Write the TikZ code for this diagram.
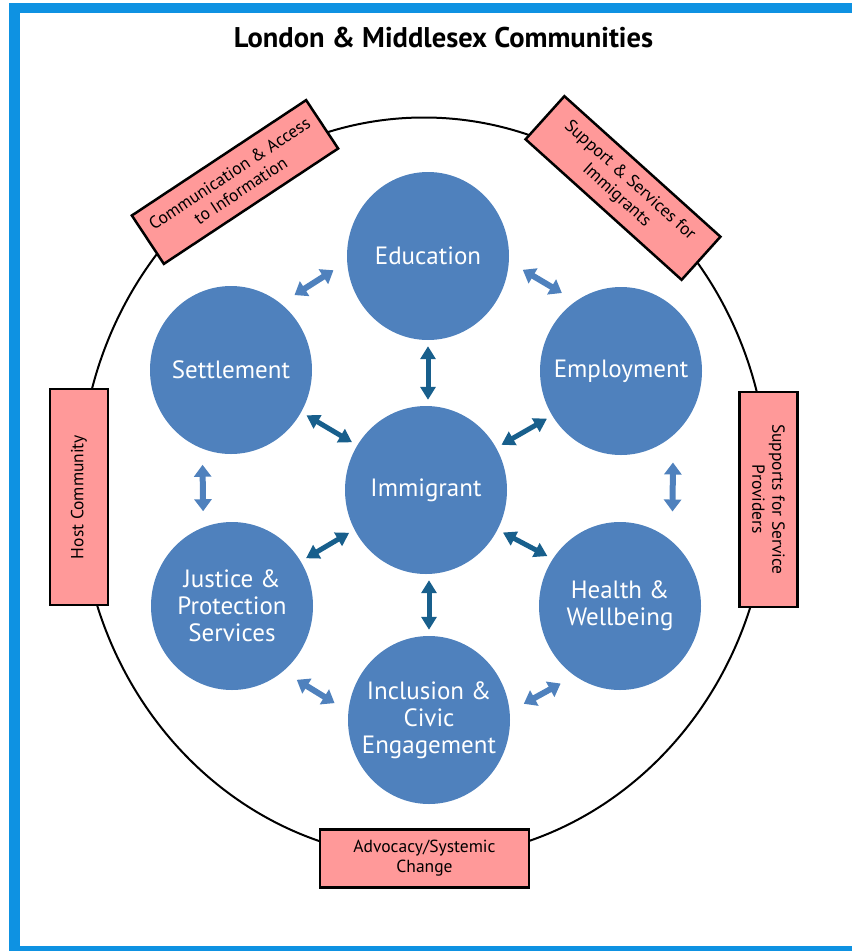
\documentclass[tikz,border=0pt]{standalone}
\usepackage{fontspec}
\setmainfont{PT Sans}
\usepackage{xcolor}
\usetikzlibrary{shapes.geometric,arrows.meta}

\definecolor{circblue}{RGB}{79,129,189}
\definecolor{arrblue}{RGB}{24,95,140}
\definecolor{boxpink}{RGB}{255,153,153}
\definecolor{framblue}{RGB}{14,146,226}

\tikzset{
  ttl/.style={font=\fontsize{28.5}{32}\selectfont\bfseries},
  ring/.style={ellipse, draw, line width=2pt, minimum width=689pt, minimum height=741pt},
  circ/.style={ellipse, fill=circblue, minimum width=162pt, minimum height=168pt, inner sep=0pt},
  circtxt/.style={text=white, align=center, font=\fontsize{25}{27}\selectfont},
  topic/.style={draw, line width=2.5pt, fill=boxpink, minimum width=#1, minimum height=58pt, inner sep=0pt, align=center, font=\fontsize{17.5}{20}\selectfont},
  larr/.style={draw=circblue, line width=6pt, {Triangle[width=17pt,length=12pt]}-{Triangle[width=17pt,length=12pt]}, shorten <=16pt, shorten >=16pt},
  darr/.style={draw=arrblue, line width=5pt, {Triangle[width=15pt,length=13pt]}-{Triangle[width=15pt,length=13pt]}, shorten <=6pt, shorten >=6pt}
}

\begin{document}
\begin{tikzpicture}[x=1pt, y=-1pt]
\useasboundingbox (0,0) rectangle (852,951);

\fill[framblue] (9,3) rectangle (20,951);
\fill[framblue] (9,3) rectangle (852,13);
\fill[framblue] (9,946) rectangle (852,951);

\node[ttl, anchor=base] (title) at (443.5,47) {London \& Middlesex Communities};
\node[ring] (ring) at (424,488) {};

\node[topic=209pt, rotate=33.5] (comm) at (235,182) {Communication \& Access\\to Information};
\node[topic=210pt, rotate=-42] (supp) at (623,188) {Support \& Services for\\Immigrants};
\node[topic=216pt, rotate=90] (host) at (79,497) {Host Community};
\node[topic=215pt, rotate=-90] (prov) at (768.5,499.5) {Supports for Service\\Providers};
\node[topic=209pt] (advo) at (424.5,858.5) {Advocacy/Systemic\\Change};

\node[circ, label={[circtxt]center:Education}] (edu) at (428,256) {};
\node[circ, label={[circtxt]center:Settlement}] (set) at (231,370) {};
\node[circ, label={[circtxt]center:Employment}] (emp) at (621,371) {};
\node[circ, label={[circtxt]center:Immigrant}] (imm) at (426,490) {};
\node[circ, label={[circtxt]center:Justice \&\\Protection\\Services}] (jus) at (232,606) {};
\node[circ, label={[circtxt]center:Health \&\\Wellbeing}] (hea) at (620,606) {};
\node[circ, label={[circtxt]center:Inclusion \&\\Civic\\Engagement}] (inc) at (429,720) {};

\draw[larr] (set.53) -- (edu.184);
\draw[larr] (edu.356) -- (emp.123);
\draw[larr] (set.250) -- (jus.110);
\draw[larr, shorten <=27pt, shorten >=30pt] (emp.309) -- (hea.51);
\draw[larr] (jus.308) -- (inc.174);
\draw[larr] (inc.6) -- (hea.237);

\draw[darr] (edu.south) -- (edu.south |- imm.north);
\draw[darr] (imm.147) -- (set.329);
\draw[darr] (imm.31) -- (emp.213);
\draw[darr] (imm.209) -- (jus.33);
\draw[darr] (imm.331) -- (hea.145);
\draw[darr] (inc.north |- imm.south) -- (inc.north);
\end{tikzpicture}
\end{document}
